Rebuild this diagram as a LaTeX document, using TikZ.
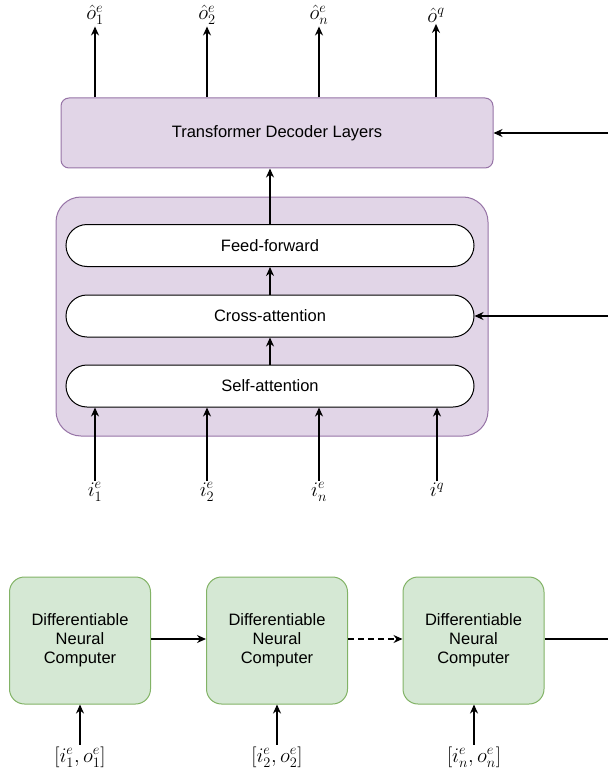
\documentclass[tikz,border=0pt]{standalone}
\usepackage{mathtools}
\usepackage{fontspec}
\setmainfont{Liberation Sans}
\usepackage{tikz}
\usetikzlibrary{arrows.meta}
\definecolor{decfill}{HTML}{E1D5E7}
\definecolor{decline}{HTML}{9673A6}
\definecolor{dncfill}{HTML}{D5E8D4}
\definecolor{dncline}{HTML}{82B366}

\begin{document}
\begin{tikzpicture}[x=1pt, y=-1pt, line width=1.4pt, >={Stealth[length=9pt, width=8pt]},
		txt/.style={font=\fontsize{16.5}{19}\selectfont},
		lbl/.style={font=\fontsize{20}{24}\selectfont, inner sep=1pt},
		purplebox/.style={draw=decline, fill=decfill, line width=1pt},
		pill/.style={draw, fill=white, line width=1pt, minimum width=408pt, minimum height=42pt, rounded corners=21pt, txt},
		dnc/.style={draw=dncline, fill=dncfill, line width=1pt, minimum width=141pt, minimum height=127pt, rounded corners=15pt, align=center, txt}]
				\useasboundingbox (0,0) rectangle (608,778);
				\path (277,133) node[purplebox, rounded corners=8pt, minimum width=432pt, minimum height=70pt, txt] (dec){Transformer Decoder Layers}
				(272,316.5) node[purplebox, rounded corners=25pt, minimum width=432pt, minimum height=239pt] (enc){}
				(270,245.5) node[pill] (ff){Feed-forward}
				(270,316) node[pill] (ca){Cross-attention}
				(270,386) node[pill] (sa){Self-attention}
				(95,15) node[lbl] (o1){$\hat{o}_1^e$}
				(207,15) node[lbl] (o2){$\hat{o}_2^e$}
				(319,15) node[lbl] (on){$\hat{o}_n^e$}
				(436,15) node[lbl] (oq){$\hat{o}^q$}
				(95,492) node[lbl] (i1){$i_1^e$}
				(207,492) node[lbl] (i2){$i_2^e$}
				(319,492) node[lbl] (in){$i_n^e$}
				(437,490) node[lbl] (iq){$i^q$}
				(80,640.5) node[dnc] (d1){Differentiable\\Neural\\Computer}
				(277,640.5) node[dnc] (d2){Differentiable\\Neural\\Computer}
				(473.5,640.5) node[dnc] (d3){Differentiable\\Neural\\Computer}
				(80,757) node[lbl] (c1){$[i_1^e, o_1^e]$}
				(277,757) node[lbl] (c2){$[i_2^e, o_2^e]$}
				(474,757) node[lbl] (c3){$[i_n^e, o_n^e]$};
				\coordinate (r1) at (608,133);
				\coordinate (r2) at (608,316);
				\coordinate (r3) at (608,639);
				
				\draw[->] (dec.north -| o1) -- (o1);
				\draw[->] (dec.north -| o2) -- (o2);
				\draw[->] (dec.north -| on) -- (on);
				\draw[->] (dec.north -| oq) -- (oq);
				\draw[->] (r1) -- (dec.east);
				\draw[->] (r2) -- (ca.east);
				\draw[->] (ff.north) -- (dec.south -| ff.north);
				\draw[->] (ca.north) -- (ff.south);
				\draw[->] (sa.north) -- (ca.south);
				\draw[->] (i1) -- (i1 |- sa.south);
				\draw[->] (i2) -- (i2 |- sa.south);
				\draw[->] (in) -- (in |- sa.south);
				\draw[->] (iq) -- (iq |- sa.south);
				\draw[->] (d1.east |- r3) -- (d2.west |- r3);
				\draw[->, dash pattern=on 6pt off 4pt] (d2.east |- r3) -- (d3.west |- r3);
				\draw (d3.east |- r3) -- (r3);
				\draw[->] (c1) -- (c1 |- d1.south);
				\draw[->] (c2) -- (c2 |- d2.south);
				\draw[->] (c3) -- (c3 |- d3.south);
			\end{tikzpicture}
\end{document}
